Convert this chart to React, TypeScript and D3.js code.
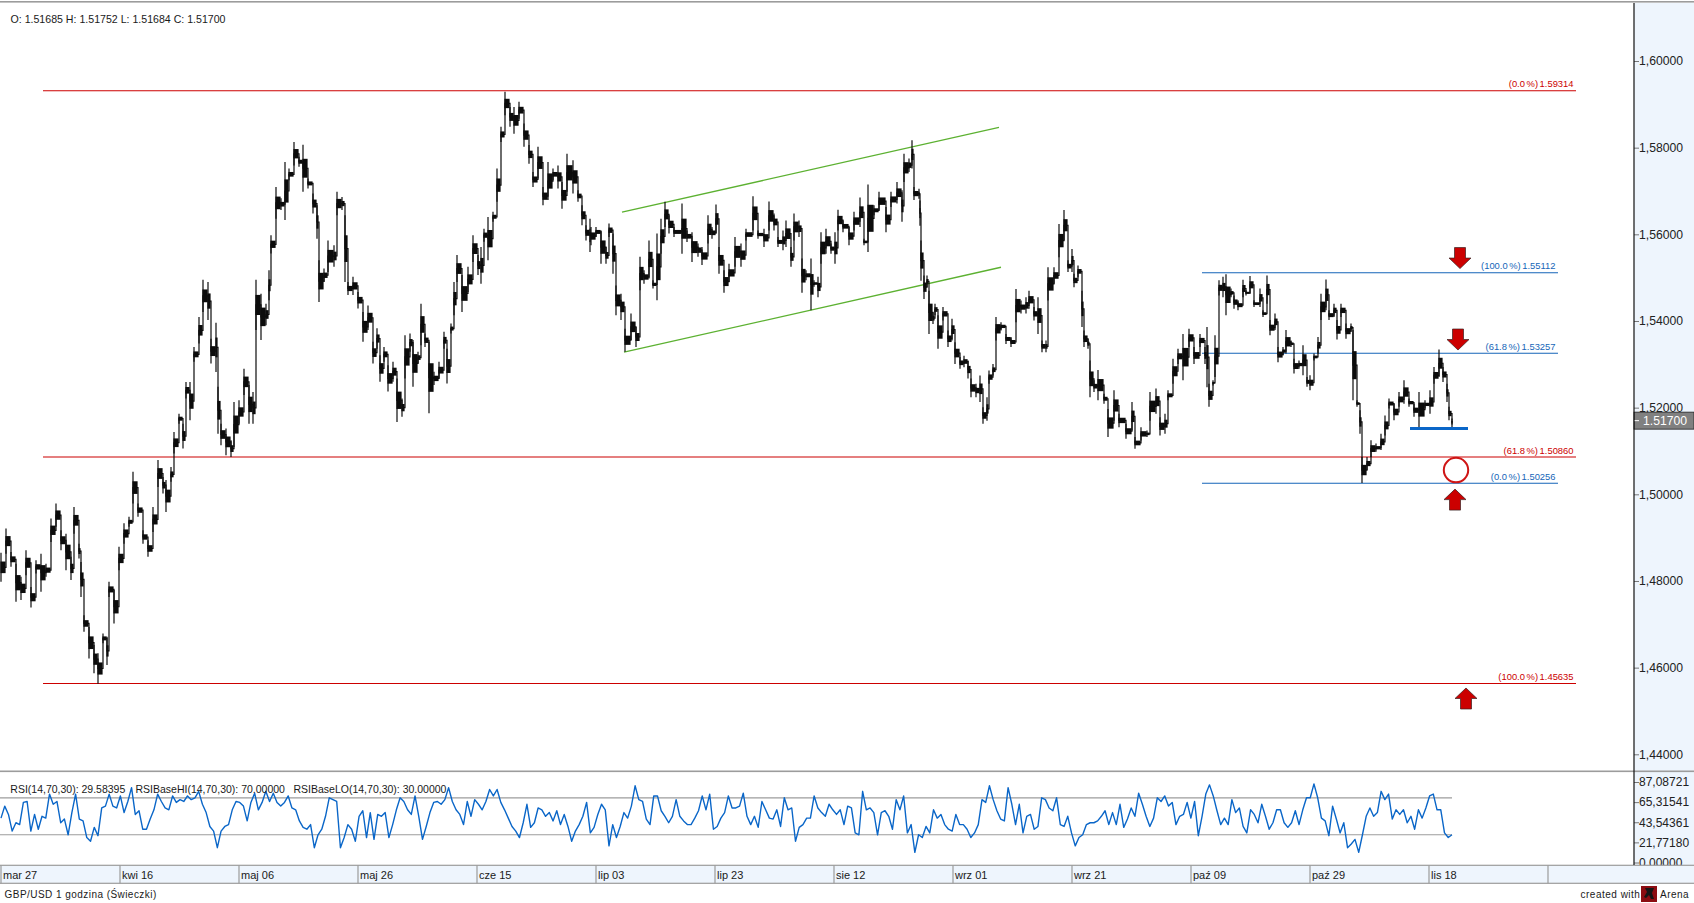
import React, { useEffect, useRef } from "react";
import * as d3 from "d3";

// GBP/USD 1h, values. Bar numbers count about one per pixel.
const barNo = [
  // mar 27 - kwi 16
  0, 5, 10, 15, 20, 25, 30, 35, 40, 45, 50, 55, 60, 65, 70, 73, 78, 80, 83, 88, 93, 97, 102, 106, 108, 113, 118,
  // kwi 16 - maj 06
  123, 128, 132, 137, 142, 147, 152, 157, 162, 165, 170, 173, 178, 182, 185, 189, 193, 198, 202, 207, 210, 215, 217, 220, 225, 230, 233, 238,
  // maj 06 -
  243, 248, 252, 255, 260, 265, 268, 270, 275, 280, 284, 288, 293, 298, 302, 307, 312, 316, 318, 323, 327, 333, 336, 341, 344, 347, 352, 357,
  362, 367, 372, 376, 379, 383, 387, 392, 396, 401, 404, 409, 412, 417, 420, 424, 428, 433, 438, 443, 446, 450, 453, 456, 461, 467, 472, 477,
  480, 483, 487, 492, 496, 500, 504, 509, 513, 518, 523, 528, 532, 537, 542, 547, 552, 557, 561, 566, 572, 577, 581, 585, 589,
  // lip 03 -
  590, 595, 600, 605, 608, 612, 615, 620, 624, 630, 635, 639, 643, 648, 652, 656, 660, 664, 668, 673, 681, 686, 691, 697, 701, 707, 711, 715,
  718, 723, 728, 734, 740, 745, 752, 757, 763, 768, 773, 777, 782, 785, 790, 793, 798, 801, 805, 810, 813, 817, 820, 825, 830, 834, 837, 842,
  848, 853, 859, 863, 867, 873, 878, 885, 890, 896, 901, 903, 908, 911, 913, 918,
  // wrz -
  919, 920, 923, 926, 928, 932, 934, 937, 942, 947, 951, 954, 959, 963, 967, 970, 975, 979, 982, 986, 988, 992, 995, 1000, 1005, 1010, 1015, 1020,
  1025, 1028, 1033, 1037, 1041, 1045, 1047, 1053, 1058, 1063, 1067, 1071, 1073, 1077, 1081, 1083, 1087, 1089, 1093, 1097, 1103, 1107, 1113, 1118,
  1125, 1131, 1134, 1140, 1146, 1149, 1155, 1159, 1164, 1167, 1172, 1177, 1182, 1188, 1193, 1199, 1204, 1206,
  // paz -
  1208, 1212, 1214, 1218, 1222, 1225, 1230, 1233, 1237, 1242, 1245, 1249, 1253, 1259, 1262, 1266, 1269, 1274, 1277, 1282, 1285, 1290, 1293, 1298,
  1302, 1306, 1309, 1313, 1317, 1320, 1325, 1328, 1333, 1336, 1340, 1345, 1350, 1352, 1356, 1359, 1361, 1366, 1370, 1375, 1380, 1384, 1388, 1393,
  1398, 1403, 1408, 1413, 1418, 1424, 1429, 1433, 1438, 1442, 1446, 1448, 1451,
];

const highs = [
  1.4865, 1.4921, 1.4867, 1.484, 1.481, 1.4871, 1.4786, 1.4848, 1.4863, 1.484, 1.4944, 1.4979, 1.4917, 1.4909, 1.4856, 1.4971, 1.4886, 1.4844, 1.4721, 1.4694, 1.4652, 1.4633, 1.4679, 1.4671, 1.4798, 1.4779, 1.4879,
  1.4933, 1.4948, 1.5052, 1.4979, 1.4917, 1.4894, 1.4971, 1.5079, 1.504, 1.5033, 1.5063, 1.5144, 1.5186, 1.5163, 1.5259, 1.5259, 1.534, 1.5409, 1.5495, 1.549, 1.5359, 1.5396, 1.5248, 1.5163, 1.5152, 1.5125, 1.5213, 1.5217,
  1.529, 1.5252, 1.5236, 1.5495, 1.5463, 1.544, 1.5517, 1.5598, 1.5709, 1.5683, 1.5767, 1.5752, 1.5813, 1.5779, 1.5807, 1.5729, 1.5694, 1.5667, 1.554, 1.5521, 1.5586, 1.5575, 1.5698, 1.5686, 1.5644, 1.549, 1.5502, 1.5467,
  1.5421, 1.5436, 1.5352, 1.5383, 1.5321, 1.534, 1.5298, 1.5306, 1.5267, 1.5221, 1.5367, 1.5371, 1.5356, 1.5329, 1.544, 1.5371, 1.5352, 1.5283, 1.5306, 1.5375, 1.5336, 1.5394, 1.549, 1.5552, 1.5506, 1.5525, 1.5598, 1.5552,
  1.5571, 1.5613, 1.564, 1.5652, 1.5752, 1.5848, 1.5929, 1.5894, 1.5894, 1.5906, 1.5856, 1.5806, 1.5744, 1.5802, 1.5709, 1.5767, 1.5752, 1.5759, 1.5721, 1.5786, 1.5771, 1.5702, 1.5667, 1.5621, 1.5636,
  1.5617, 1.5617, 1.5609, 1.5571, 1.5625, 1.5602, 1.5482, 1.5463, 1.5382, 1.5417, 1.5386, 1.5548, 1.5517, 1.5586, 1.5494, 1.5602, 1.5636, 1.5675, 1.5644, 1.5617, 1.5671, 1.5609, 1.5605, 1.5579, 1.5571, 1.5644, 1.5617, 1.5669,
  1.5571, 1.5517, 1.5532, 1.5594, 1.5579, 1.5613, 1.5688, 1.5609, 1.5613, 1.5676, 1.5648, 1.5594, 1.5609, 1.5632, 1.5571, 1.5648, 1.5632, 1.5544, 1.5517, 1.5544, 1.5494, 1.5502, 1.5605, 1.5613, 1.5579, 1.5605, 1.5657, 1.5632,
  1.5617, 1.5652, 1.5685, 1.559, 1.5715, 1.5667, 1.5698, 1.5663, 1.5698, 1.5721, 1.5702, 1.5786, 1.5775, 1.5817, 1.5709, 1.5705,
  1.5678, 1.5586, 1.5505, 1.5505, 1.547, 1.542, 1.544, 1.5413, 1.5432, 1.5378, 1.5405, 1.5351, 1.5317, 1.532, 1.5309, 1.5267, 1.5255, 1.5274, 1.5201, 1.5224, 1.5286, 1.5301, 1.5409, 1.5397, 1.537, 1.5363, 1.5474, 1.5447,
  1.5455, 1.547, 1.5432, 1.5455, 1.5355, 1.5355, 1.5524, 1.5524, 1.5624, 1.5656, 1.554, 1.5566, 1.5509, 1.5528, 1.547, 1.5378, 1.5359, 1.5309, 1.5263, 1.5287, 1.5232, 1.5197, 1.524, 1.5186,
  1.5163, 1.5213, 1.5132, 1.5155, 1.5147, 1.5236, 1.5244, 1.5178, 1.5186, 1.524, 1.5313, 1.5336, 1.537, 1.5382, 1.534, 1.537, 1.534, 1.5386,
  1.5255, 1.5263, 1.5367, 1.5494, 1.5502, 1.5508, 1.5475, 1.5459, 1.5448, 1.5495, 1.5471, 1.5504, 1.5448, 1.5475, 1.5425, 1.5505, 1.5402, 1.5417, 1.534, 1.534, 1.5379, 1.5355, 1.5313, 1.5309,
  1.5344, 1.5271, 1.5275, 1.5325, 1.5363, 1.5463, 1.5496, 1.5425, 1.544, 1.5402, 1.544, 1.5394, 1.5394, 1.5379, 1.5217, 1.5194, 1.5086, 1.5086, 1.5125, 1.5117, 1.514, 1.5182, 1.5221, 1.5209,
  1.5236, 1.5263, 1.5221, 1.5209, 1.5236, 1.5217, 1.524, 1.5294, 1.5334, 1.5294, 1.5255, 1.5202, 1.5175,
];

const lows = [
  1.4798, 1.4863, 1.4833, 1.4752, 1.4756, 1.4813, 1.4739, 1.4817, 1.4775, 1.481, 1.489, 1.4925, 1.4871, 1.4825, 1.4802, 1.4909, 1.4852, 1.4763, 1.4683, 1.4621, 1.4587, 1.4563, 1.4656, 1.4606, 1.4763, 1.4702, 1.4825,
  1.4886, 1.4925, 1.4979, 1.4948, 1.4886, 1.4856, 1.4913, 1.5017, 1.5002, 1.4959, 1.5029, 1.5094, 1.5163, 1.5106, 1.5221, 1.5171, 1.5306, 1.5348, 1.5421, 1.5402, 1.5302, 1.5282, 1.514, 1.5113, 1.509, 1.5086, 1.5109, 1.5163,
  1.5229, 1.5163, 1.5163, 1.5379, 1.5356, 1.539, 1.5448, 1.5556, 1.5636, 1.5656, 1.5633, 1.5725, 1.5759, 1.5756, 1.5698, 1.5706, 1.5648, 1.559, 1.5444, 1.549, 1.5513, 1.5525, 1.5644, 1.5656, 1.549, 1.546, 1.546, 1.5429,
  1.5352, 1.5379, 1.5302, 1.5336, 1.526, 1.5306, 1.5237, 1.526, 1.5167, 1.5179, 1.5267, 1.5329, 1.5248, 1.5302, 1.5344, 1.534, 1.5187, 1.5252, 1.5267, 1.5336, 1.5256, 1.5371, 1.5413, 1.549, 1.5421, 1.5467, 1.5536, 1.5506,
  1.5486, 1.5583, 1.554, 1.5629, 1.5675, 1.5813, 1.5875, 1.5848, 1.5832, 1.5867, 1.5802, 1.5763, 1.5709, 1.5729, 1.5667, 1.5679, 1.5725, 1.5706, 1.5659, 1.5698, 1.5694, 1.5675, 1.5621, 1.5586, 1.5559,
  1.5575, 1.5594, 1.5532, 1.5532, 1.5594, 1.5509, 1.5413, 1.5402, 1.5329, 1.5356, 1.534, 1.5471, 1.5486, 1.5498, 1.5475, 1.5448, 1.5555, 1.5617, 1.5602, 1.5594, 1.5555, 1.5582, 1.5536, 1.5548, 1.5529, 1.5579, 1.559, 1.5602,
  1.5509, 1.5465, 1.549, 1.5525, 1.5525, 1.5586, 1.5609, 1.559, 1.5571, 1.5609, 1.5609, 1.5571, 1.5563, 1.5571, 1.5525, 1.5586, 1.5594, 1.5465, 1.5494, 1.5425, 1.5479, 1.5455, 1.5532, 1.5555, 1.5555, 1.5532, 1.5609, 1.5605,
  1.5575, 1.5609, 1.5617, 1.5575, 1.5559, 1.5644, 1.5655, 1.5605, 1.5663, 1.5671, 1.5629, 1.5721, 1.5744, 1.5752, 1.5679, 1.5682,
  1.562, 1.5493, 1.5451, 1.5478, 1.537, 1.5393, 1.5413, 1.5336, 1.5401, 1.534, 1.5355, 1.5301, 1.529, 1.5293, 1.5267, 1.5224, 1.5224, 1.5213, 1.5163, 1.517, 1.5255, 1.5274, 1.5355, 1.5378, 1.5347, 1.534, 1.5397, 1.5417,
  1.5417, 1.5428, 1.5401, 1.537, 1.5328, 1.5328, 1.5447, 1.5486, 1.5547, 1.5586, 1.5513, 1.5513, 1.5478, 1.5501, 1.5386, 1.534, 1.5336, 1.5224, 1.5236, 1.5217, 1.5209, 1.5132, 1.517, 1.5155,
  1.5128, 1.5147, 1.5105, 1.5124, 1.5132, 1.517, 1.5186, 1.5136, 1.514, 1.5217, 1.5255, 1.5301, 1.5263, 1.534, 1.5301, 1.534, 1.5301, 1.5247,
  1.5202, 1.5251, 1.5271, 1.5459, 1.5455, 1.5413, 1.5455, 1.5428, 1.5425, 1.5455, 1.5459, 1.5463, 1.5432, 1.5432, 1.5409, 1.544, 1.5367, 1.5379, 1.5305, 1.5321, 1.5325, 1.534, 1.5279, 1.529,
  1.5275, 1.5248, 1.524, 1.5309, 1.5325, 1.5402, 1.5425, 1.5402, 1.5409, 1.5357, 1.5409, 1.5359, 1.5375, 1.5217, 1.5202, 1.514, 1.5026, 1.5056, 1.5086, 1.5098, 1.5102, 1.5136, 1.5198, 1.5171,
  1.5202, 1.5209, 1.5202, 1.5179, 1.5155, 1.5198, 1.5186, 1.5255, 1.5271, 1.5259, 1.5213, 1.5171, 1.5155,
];

// RSI(14,70,30), one reading every few bars
const rsiEvery = 3.73;
const rsiValues = [
  48, 61, 52, 34, 43, 41, 65, 66, 34, 52, 36, 50, 48, 74, 63, 66, 43, 47, 30, 54, 74, 47, 45, 27, 23, 38, 29, 59, 61, 74, 61, 59, 72, 54, 66, 81, 52, 56, 36, 36,
  47, 57, 74, 66, 59, 57, 72, 65, 68, 66, 72, 68, 70, 77, 63, 54, 39, 34, 16, 34, 39, 41, 57, 66, 65, 61, 45, 65, 75, 57, 65, 77, 66, 75, 65, 61, 65, 72, 59, 57,
  45, 38, 36, 41, 16, 30, 36, 50, 70, 68, 66, 16, 27, 41, 36, 23, 50, 56, 27, 54, 25, 52, 50, 54, 27, 41, 57, 70, 66, 57, 52, 72, 50, 25, 39, 54, 65, 66, 63, 68,
  81, 66, 57, 52, 41, 66, 50, 68, 63, 57, 66, 79, 72, 79, 65, 57, 48, 39, 34, 27, 43, 63, 38, 43, 59, 57, 50, 54, 45, 56, 41, 52, 39, 23, 34, 41, 50, 65, 32,
  38, 52, 63, 57, 18, 41, 27, 39, 54, 48, 61, 83, 68, 66, 47, 41, 72, 72, 56, 50, 43, 50, 68, 50, 45, 41, 41, 48, 56, 72, 57, 74, 36, 39, 48, 54, 72, 59, 59, 61,
  75, 50, 41, 50, 38, 66, 57, 48, 47, 57, 39, 70, 57, 59, 23, 38, 41, 48, 48, 72, 59, 54, 50, 63, 57, 52, 57, 41, 61, 59, 32, 30, 77, 57, 59, 54, 30, 54, 56, 50,
  36, 68, 57, 72, 32, 41, 11, 30, 27, 39, 32, 57, 48, 52, 41, 36, 34, 52, 41, 41, 36, 27,
  32, 41, 68, 65, 83, 68, 56, 47, 45, 81, 63, 41, 63, 32, 50, 52, 36, 39, 70, 68, 59, 56, 70, 41, 39, 50, 32, 18, 27, 30, 41, 43, 43, 45, 50, 56, 41, 54, 41, 63,
  38, 47, 59, 50, 75, 63, 50, 39, 48, 70, 66, 72, 61, 65, 41, 50, 52, 65, 48, 66, 29, 50, 74, 84, 72, 56, 41, 48, 41, 68, 54, 59, 39, 32, 57,
  52, 43, 63, 50, 36, 43, 57, 57, 43, 38, 43, 56, 41, 57, 70, 70, 85, 70, 48, 45, 29, 61, 47, 32, 43, 16, 20, 25, 11, 30, 50, 59, 50, 54, 77, 68, 74, 47, 57, 52,
  57, 43, 50, 36, 57, 48, 59, 72, 74, 57, 57, 32, 27, 30,
];

const priceTicks = [1.6, 1.58, 1.56, 1.54, 1.52, 1.5, 1.48, 1.46, 1.44];
const rsiTicks = [87.08721, 65.31541, 43.54361, 21.7718, 0];
const rsiBaseLevels = [70, 30];
const dateLabels = ["mar 27", "kwi 16", "maj 06", "maj 26", "cze 15", "lip 03", "lip 23", "sie 12", "wrz 01", "wrz 21", "paź 09", "paź 29", "lis 18", ""];
const barsPerLabel = 119;
const lastPrice = 1.517;

const redFibo = [
  { pct: "0.0", price: 1.59314 },
  { pct: "61.8", price: 1.5086 },
  { pct: "100.0", price: 1.45635 },
];
const blueFibo = [
  { pct: "100.0", price: 1.55112 },
  { pct: "61.8", price: 1.53257 },
  { pct: "0.0", price: 1.50256 },
];
const channel = [
  [[621, 1.5651], [998, 1.5847]],
  [[623, 1.5328], [1000, 1.5524]],
];
const downArrows = [[1459, 1.5521], [1457, 1.5333]];
const upArrows = [[1454, 1.5012], [1465, 1.4553]];
const supportLine = { from: 1409, to: 1467, price: 1.5152 };
const targetCircle = { bar: 1455, price: 1.5056 };

const FONT = "'Liberation Sans', Arial, sans-serif";
const PANEL = "#eef5fd";
const GRAY = "#9c9c9c";
const RED = "#cc0000";
const BLUE = "#0a66c8";

const App: React.FC = () => {
  const ref = useRef<SVGSVGElement | null>(null);

  useEffect(() => {
    if (!ref.current) return;
    const svg = d3.select(ref.current);
    svg.selectAll("*").remove();

    const width = 1694;
    const height = 903;
    const axisX = 1634;

    const x = d3.scaleLinear().domain([0, barsPerLabel * 13]).range([1, 1548]);
    const y = d3.scaleLinear().domain([1.44, 1.6]).range([754.3, 61]);
    const yRsi = d3.scaleLinear().domain([0, 87.08721]).range([862.5, 782]);

    svg.append("rect").attr("width", width).attr("height", height).attr("fill", "#fff");
    svg.append("rect").attr("x", 0).attr("y", 1).attr("width", width).attr("height", 1.6).attr("fill", GRAY);

    // right hand scale panel
    svg.append("rect").attr("x", axisX).attr("y", 3).attr("width", width - axisX).attr("height", 862).attr("fill", PANEL);

    // fibo levels under the price
    const level = (items: { pct: string; price: number }[], colour: string, from: number, to: number) => {
      items.forEach((d) => {
        svg.append("line")
          .attr("x1", x(from)).attr("x2", x(to))
          .attr("y1", y(d.price)).attr("y2", y(d.price))
          .attr("stroke", colour).attr("stroke-width", 1.1);
        svg.append("text")
          .attr("x", x(to) - 2.5).attr("y", y(d.price) - 3.5)
          .attr("text-anchor", "end")
          .attr("font-size", 9.4).attr("font-family", FONT).attr("word-spacing", -1)
          .attr("fill", colour)
          .text(`(${d.pct} %) ${d.price.toFixed(5)}`);
      });
    };
    level(redFibo, RED, 42, 1575);
    level(blueFibo, "#1565b8", 1201, 1557);

    // channel
    channel.forEach((c) => {
      svg.append("path")
        .attr("d", d3.line().x((d) => x(d[0])).y((d) => y(d[1]))(c as [number, number][]))
        .attr("stroke", "#5cb131").attr("stroke-width", 1.3).attr("fill", "none");
    });

    // price: wicks, then the dense part of each bar, then the steps between bars
    const ink = "#0c0c0c";
    const mids: [number, number][] = barNo.map((b, i) => [x(b), y((highs[i] + lows[i]) / 2)]);
    svg.append("path")
      .attr("d", d3.line().curve(d3.curveStepAfter)(mids))
      .attr("fill", "none").attr("stroke", ink).attr("stroke-width", 1.2);
    svg.append("g")
      .selectAll("line")
      .data(barNo)
      .enter()
      .append("line")
      .attr("x1", (d) => x(d)).attr("x2", (d) => x(d))
      .attr("y1", (_, i) => y(highs[i])).attr("y2", (_, i) => y(lows[i]))
      .attr("stroke", ink).attr("stroke-width", 1.2);
    svg.append("g")
      .selectAll("rect")
      .data(barNo)
      .enter()
      .append("rect")
      .attr("x", (d) => x(d) - 0.6)
      .attr("width", (d, i) => Math.max(1.2, x(barNo[i + 1] ?? d) - x(d) + 0.2))
      .attr("y", (_, i) => y(highs[i] - (highs[i] - lows[i]) * 0.3))
      .attr("height", (_, i) => y(lows[i] + (highs[i] - lows[i]) * 0.3) - y(highs[i] - (highs[i] - lows[i]) * 0.3))
      .attr("fill", ink);

    // support line, circle, arrows
    svg.append("line")
      .attr("x1", x(supportLine.from)).attr("x2", x(supportLine.to))
      .attr("y1", y(supportLine.price)).attr("y2", y(supportLine.price))
      .attr("stroke", BLUE).attr("stroke-width", 3);
    svg.append("circle")
      .attr("cx", x(targetCircle.bar)).attr("cy", y(targetCircle.price)).attr("r", 12.2)
      .attr("fill", "#fff").attr("stroke", "#cf1515").attr("stroke-width", 2);

    const arrow = (bar: number, price: number, dir: number) => {
      const cx = x(bar);
      const tip = y(price);
      const shape: [number, number][] = [
        [0, 0], [11, -10.5 * dir], [5.5, -10.5 * dir], [5.5, -21 * dir], [-5.5, -21 * dir], [-5.5, -10.5 * dir], [-11, -10.5 * dir],
      ];
      svg.append("path")
        .attr("d", d3.line().x((d) => cx + d[0]).y((d) => tip + d[1])(shape) + "Z")
        .attr("fill", "#cc0000").attr("stroke", "#3a2020").attr("stroke-width", 0.7);
    };
    downArrows.forEach((a) => arrow(a[0], a[1], 1));
    upArrows.forEach((a) => arrow(a[0], a[1], -1));

    // price scale
    const priceAxis = svg.append("g")
      .attr("transform", `translate(${axisX},0)`)
      .call(
        d3.axisRight(y)
          .tickValues(priceTicks)
          .tickSize(5)
          .tickPadding(0)
          .tickFormat((d) => (d as number).toFixed(5).replace(".", ","))
      );
    priceAxis.select(".domain").remove();
    priceAxis.selectAll("line").attr("stroke", "#777");
    priceAxis.selectAll("text").attr("font-size", 12.2).attr("font-family", FONT).attr("fill", "#222").attr("x", 5);

    // last price box
    const lastY = y(lastPrice);
    svg.append("rect")
      .attr("x", axisX).attr("y", lastY - 8.5).attr("width", width - axisX).attr("height", 17)
      .attr("fill", "#808080").attr("stroke", "#222").attr("stroke-width", 0.8);
    svg.append("line").attr("x1", axisX).attr("x2", axisX + 5).attr("y1", lastY).attr("y2", lastY).attr("stroke", "#fff");
    svg.append("text")
      .attr("x", axisX + 9).attr("y", lastY + 4.4)
      .attr("font-size", 12.2).attr("font-family", FONT).attr("fill", "#fff")
      .text(lastPrice.toFixed(5));

    // RSI panel
    svg.append("rect").attr("x", 0).attr("y", 770.5).attr("width", width).attr("height", 1.6).attr("fill", GRAY);
    rsiBaseLevels.forEach((v) => {
      svg.append("line")
        .attr("x1", x(0) - 1).attr("x2", x(1451))
        .attr("y1", yRsi(v)).attr("y2", yRsi(v))
        .attr("stroke", GRAY).attr("stroke-width", 1.2);
    });
    const rsiLine = d3.line<number>()
      .x((_, i) => x(i * rsiEvery))
      .y((d) => yRsi(d));
    svg.append("path")
      .attr("d", rsiLine(rsiValues))
      .attr("fill", "none").attr("stroke", BLUE).attr("stroke-width", 1.4).attr("stroke-linejoin", "round");

    const rsiAxis = svg.append("g")
      .attr("transform", `translate(${axisX},0)`)
      .call(
        d3.axisRight(yRsi)
          .tickValues(rsiTicks)
          .tickSize(5)
          .tickPadding(0)
          .tickFormat((d) => (d as number).toFixed(5).replace(".", ","))
      );
    rsiAxis.select(".domain").remove();
    rsiAxis.selectAll("line").attr("stroke", "#777");
    rsiAxis.selectAll("text").attr("font-size", 12).attr("font-family", FONT).attr("fill", "#222").attr("x", 5);

    const note = (tx: number, ty: number, s: string, size = 10.5, spacing = 0) =>
      svg.append("text")
        .attr("x", tx).attr("y", ty)
        .attr("font-size", size).attr("font-family", FONT).attr("letter-spacing", spacing).attr("fill", "#1a1a1a")
        .text(s);

    note(10.5, 22.5, "O: 1.51685 H: 1.51752 L: 1.51684 C: 1.51700", 10.6);
    note(10.3, 792.7, "RSI(14,70,30): 29.58395");
    note(135.5, 792.7, "RSIBaseHI(14,70,30): 70.00000");
    note(293.5, 792.7, "RSIBaseLO(14,70,30): 30.00000");

    // date strip
    svg.append("rect")
      .attr("x", -2).attr("y", 865.3).attr("width", width + 4).attr("height", 18)
      .attr("fill", PANEL).attr("stroke", GRAY).attr("stroke-width", 1.2);
    dateLabels.forEach((label, i) => {
      const left = x(i * barsPerLabel);
      svg.append("line")
        .attr("x1", left).attr("x2", left).attr("y1", 865.3).attr("y2", 883.3)
        .attr("stroke", GRAY).attr("stroke-width", 1.2);
      svg.append("text")
        .attr("x", left + 2).attr("y", 878.7)
        .attr("font-size", 11).attr("font-family", FONT).attr("fill", "#1a1a1a")
        .text(label);
    });

    // scale border drawn last so it stays on top of the strips
    svg.append("line")
      .attr("x1", axisX).attr("x2", axisX).attr("y1", 3).attr("y2", 865)
      .attr("stroke", "#111").attr("stroke-width", 1.2);

    note(4.6, 898, "GBP/USD 1 godzina (Świeczki)", 10, 0.45);
    note(1580.5, 898, "created with", 10, 0.5);
    note(1660, 898, "Arena", 10, 0.5);

    // small logo next to the credit
    svg.append("rect").attr("x", 1641).attr("y", 886).attr("width", 16).attr("height", 16).attr("fill", "#8c0d12");
    svg.append("path").attr("d", "M1645 888h9l-2 5 2 6h-3l-2-4-3 3-2-1 3-5z").attr("fill", "#161616");
  }, []);

  return <svg ref={ref} width={1694} height={903} style={{ position: "absolute", left: 0, top: 0, display: "block" }} />;
};

export default App;
